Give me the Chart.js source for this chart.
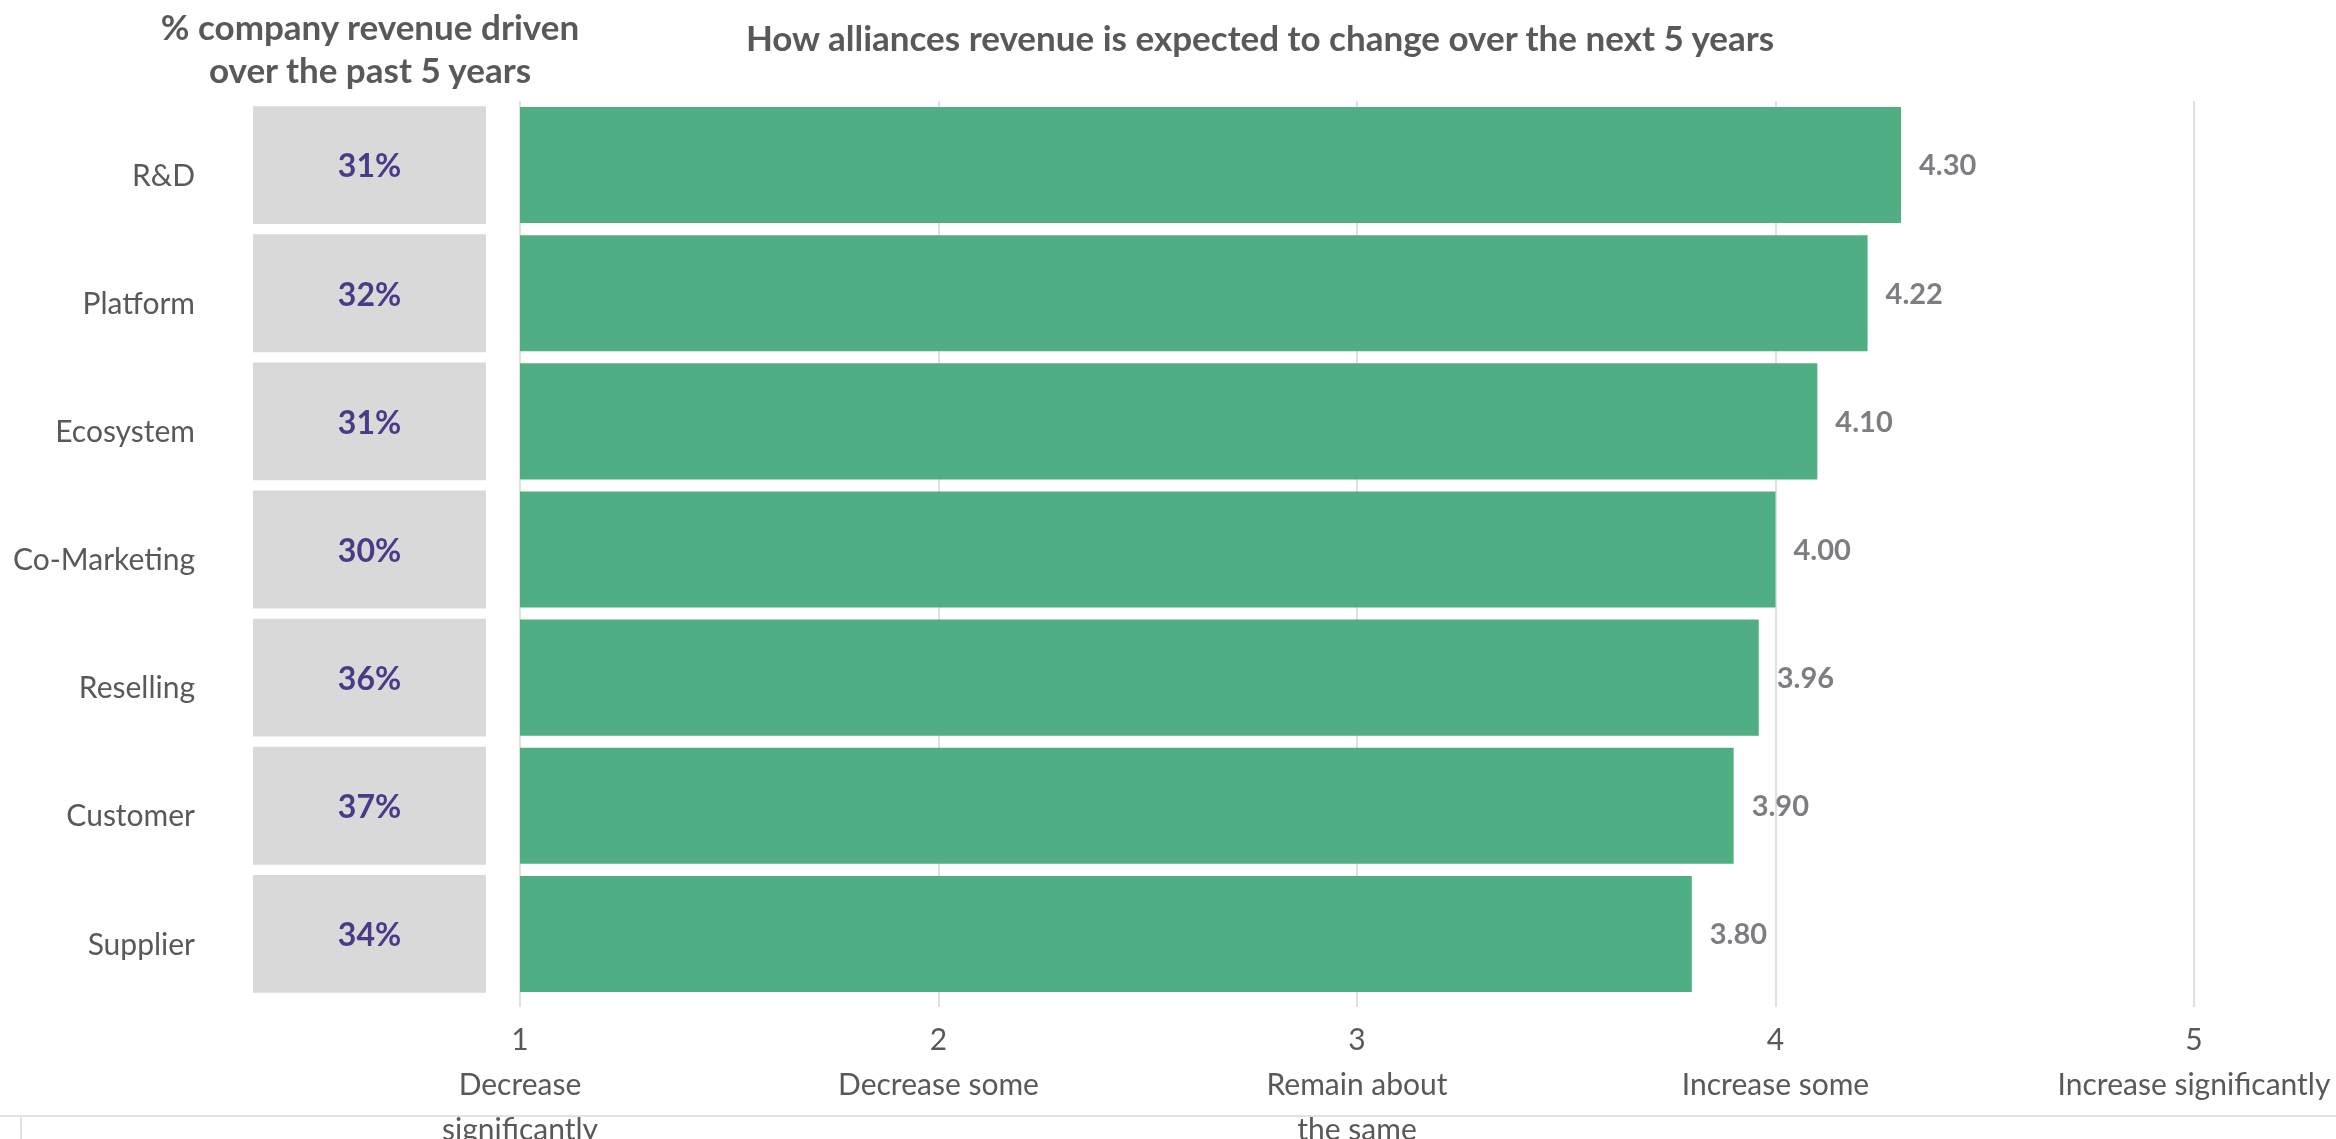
<!DOCTYPE html>
<html>
<head>
<meta charset="utf-8">
<script src="https://cdn.jsdelivr.net/npm/chart.js@4.4.1/dist/chart.umd.min.js"></script>
<style>
  html, body { margin: 0; padding: 0; background: #fff; overflow: hidden; }
  #page { position: relative; width: 2336px; height: 1139px; overflow: hidden; }
  canvas { position: absolute; top: 0; left: 0; }
  .title { position: absolute; font-family: Lato, sans-serif; font-weight: bold; color: #595959; text-align: center; white-space: nowrap; }
  #shareTitle { left: 70px; width: 600px; top: 5px; font-size: 35px; line-height: 43px; }
  #outlookTitle { left: 660px; width: 1200px; top: 15px; font-size: 35px; line-height: 44px; }
  .frame { position: absolute; background: #dde3ec; }
</style>
</head>
<body>
<div id="page">
  <div class="frame" style="left:0;top:1115px;width:2336px;height:2px"></div>
  <div class="frame" style="left:20px;top:1115px;width:2px;height:30px"></div>
  <canvas id="shareChart" width="520" height="1180"></canvas>
  <canvas id="outlookChart" width="2360" height="1180"></canvas>
  <div id="shareTitle" class="title">% company revenue driven<br>over the past 5 years</div>
  <div id="outlookTitle" class="title">How alliances revenue is expected to change over the next 5 years</div>
</div>
<script>
const categories = ['R&D', 'Platform', 'Ecosystem', 'Co-Marketing', 'Reselling', 'Customer', 'Supplier'];
const pastShare = [31, 32, 31, 30, 36, 37, 34];
const outlook = [4.30, 4.22, 4.10, 4.00, 3.96, 3.90, 3.80];
const scaleTicks = [1, 2, 3, 4, 5];
const scaleText = [
  ['Decrease', 'significantly'],
  ['Decrease some'],
  ['Remain about', 'the same'],
  ['Increase some'],
  ['Increase significantly']
];
// every grey cell spans the whole column
const cellSpan = [1, 1, 1, 1, 1, 1, 1];

const FONT = 'Lato, sans-serif';
const TEXT = '#595959';

const shareLabels = {
  id: 'shareLabels',
  afterDatasetsDraw(chart) {
    const ctx = chart.ctx;
    ctx.save();
    ctx.font = 'bold 32px ' + FONT;
    ctx.fillStyle = '#4b3a87';
    ctx.textAlign = 'center';
    ctx.textBaseline = 'middle';
    chart.getDatasetMeta(0).data.forEach((bar, i) => {
      ctx.fillText(pastShare[i] + '%', (bar.base + bar.x) / 2, bar.y + 2);
    });
    ctx.restore();
  }
};

const valueLabels = {
  id: 'valueLabels',
  afterDatasetsDraw(chart) {
    const ctx = chart.ctx;
    ctx.save();
    ctx.font = 'bold 29px ' + FONT;
    ctx.fillStyle = '#7f7d82';
    ctx.textAlign = 'left';
    ctx.textBaseline = 'middle';
    chart.getDatasetMeta(0).data.forEach((bar, i) => {
      ctx.fillText(outlook[i].toFixed(2), bar.x + 18, bar.y + 1);
    });
    ctx.restore();
  }
};

new Chart(document.getElementById('shareChart'), {
  type: 'bar',
  data: {
    labels: categories,
    datasets: [{
      data: cellSpan,
      backgroundColor: '#d9d9d9',
      barPercentage: 0.92,
      categoryPercentage: 1
    }]
  },
  options: {
    indexAxis: 'y',
    responsive: false,
    animation: false,
    layout: { padding: { left: 0, right: 34, top: 101, bottom: 182 } },
    plugins: { legend: { display: false }, tooltip: { enabled: false } },
    scales: {
      x: { display: false, min: 0, max: 1 },
      y: {
        grid: { display: false, drawTicks: false },
        border: { display: false },
        ticks: { color: TEXT, font: { family: FONT, size: 30 }, padding: 58, labelOffset: 11 },
        afterFit(scale) { scale.width = 253; }
      }
    }
  },
  plugins: [shareLabels]
});

// canvas runs a little past the page edge so the last tick label fits
new Chart(document.getElementById('outlookChart'), {
  type: 'bar',
  data: {
    labels: categories,
    datasets: [{
      data: outlook,
      backgroundColor: '#50ae83',
      barPercentage: 0.906,
      categoryPercentage: 1
    }]
  },
  options: {
    indexAxis: 'y',
    responsive: false,
    animation: false,
    layout: { padding: { left: 520, right: 166, top: 101, bottom: 0 } },
    plugins: { legend: { display: false }, tooltip: { enabled: false } },
    scales: {
      x: {
        min: scaleTicks[0],
        max: scaleTicks[scaleTicks.length - 1],
        afterBuildTicks(scale) { scale.ticks = scaleTicks.map(v => ({ value: v })); },
        ticks: {
          autoSkip: false,
          maxRotation: 0,
          color: TEXT,
          font: { family: FONT, size: 30, lineHeight: 1.5 },
          padding: 11,
          callback: (v, i) => [String(scaleTicks[i])].concat(scaleText[i])
        },
        grid: { color: '#e0e0e0', lineWidth: 2, tickLength: 9 },
        border: { display: false },
        afterFit(scale) { scale.height = 182; }
      },
      y: { display: false }
    }
  },
  plugins: [valueLabels]
});
</script>
</body>
</html>
